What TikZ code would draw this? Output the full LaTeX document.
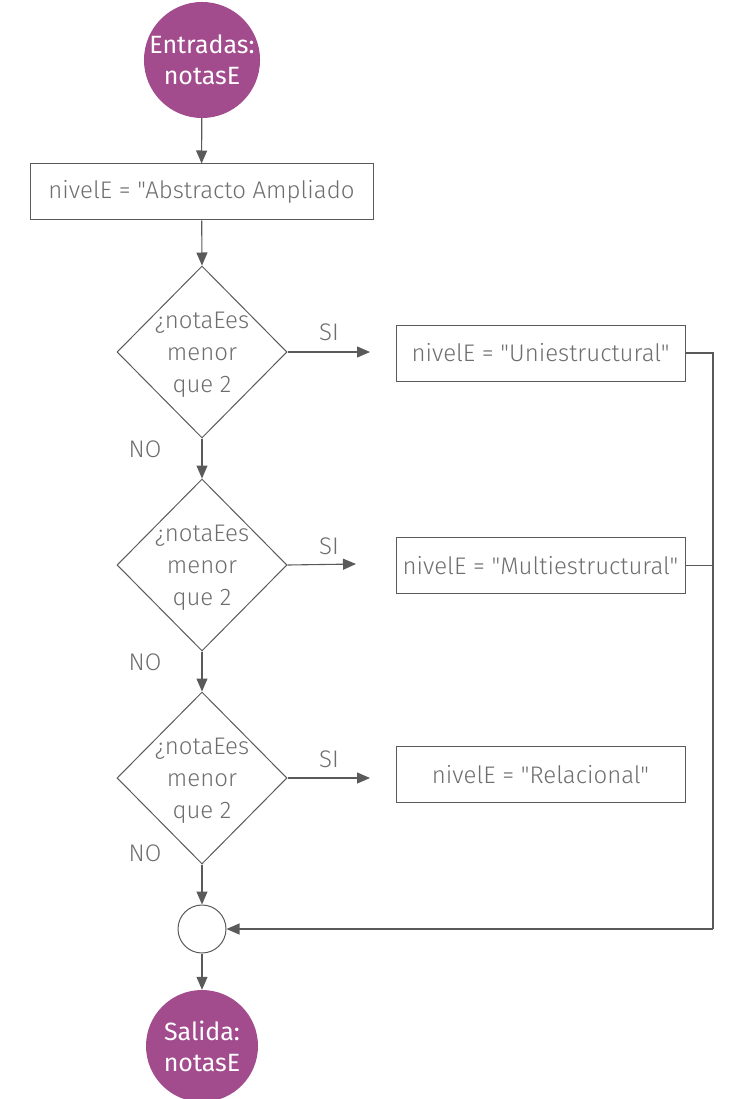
\documentclass[tikz,border=0pt]{standalone}
\usepackage{fontspec}
\setmainfont{Fira Sans Light}[Ligatures=TeXOff]
\newfontfamily\medfont{Fira Sans}
\usetikzlibrary{shapes.geometric,arrows.meta}
\definecolor{linec}{HTML}{5A5A5A}
\definecolor{textc}{HTML}{6E6E6E}
\definecolor{purp}{HTML}{A24C8E}
\begin{document}
\begin{tikzpicture}[x=1pt,y=-1pt,
  every node/.style={font=\fontsize{24}{32}\selectfont, text=textc},
  conn/.style={draw=linec, line width=1.1pt},
  arr/.style={conn, -{Triangle[length=13pt,width=11pt]}},
  procbox/.style={draw=linec, line width=1pt, minimum height=56pt, inner sep=0pt},
  decis/.style={draw=linec, line width=1pt, diamond, minimum width=170pt, minimum height=172pt, inner sep=0pt},
  term/.style={circle, fill=purp, minimum size=112pt, inner sep=0pt, align=center, text=white, font=\medfont\fontsize{25}{31}\selectfont},
  lbl/.style={inner sep=0pt}
]
\useasboundingbox (0,0) rectangle (729,1099);
\node[term] (start) at (202,60) {Entradas:\\notasE};
\node[procbox, minimum width=343pt] (init) at (201.5,192) {nivelE = "Abstracto Ampliado};
\node[decis] (d1) at (202,352) {};
\node[align=center, inner sep=0pt] (d1t) at (202,355) {¿notaEes\\menor\\que 2};
\node[decis] (d2) at (202,565) {};
\node[align=center, inner sep=0pt] (d2t) at (202,568) {¿notaEes\\menor\\que 2};
\node[decis] (d3) at (202,778) {};
\node[align=center, inner sep=0pt] (d3t) at (202,781) {¿notaEes\\menor\\que 2};
\node[procbox, minimum width=289pt] (b1) at (540.5,353) {nivelE = "Uniestructural"};
\node[procbox, minimum width=289pt] (b2) at (540.5,565.5) {nivelE = "Multiestructural"};
\node[procbox, minimum width=289pt] (b3) at (540.5,774.5) {nivelE = "Relacional"};
\node[circle, draw=linec, line width=1pt, minimum size=48pt, inner sep=0pt] (join) at (202,929) {};
\node[term] (finish) at (202,1046) {Salida:\\notasE};
\node[lbl] (si1) at (329,332) {SI};
\node[lbl] (si2) at (329,546) {SI};
\node[lbl] (si3) at (329,759) {SI};
\node[lbl] (no1) at (145,449) {NO};
\node[lbl] (no2) at (145,662) {NO};
\node[lbl] (no3) at (145,853) {NO};
\coordinate (a1) at (370,352);
\coordinate (a2) at (356,564);
\coordinate (a3) at (370,778);
\coordinate (r1) at (713,353);
\coordinate (r2) at (713,565.5);
\coordinate (r3) at (713,929);
\draw[arr] (start) -- (init);
\draw[arr] (init) -- (d1.north);
\draw[arr] (d1.south) -- (d2.north);
\draw[arr] (d2.south) -- (d3.north);
\draw[arr] (d3.south) -- (join);
\draw[arr] (join) -- (finish);
\draw[arr] (d1.east) -- (a1);
\draw[arr] (d2.east) -- (a2);
\draw[arr] (d3.east) -- (a3);
\draw[conn] (b1.east) -- (r1) -- (r3);
\draw[conn] (b2.east) -- (r2);
\draw[arr] (r3) -- (join.east);
\end{tikzpicture}
\end{document}
